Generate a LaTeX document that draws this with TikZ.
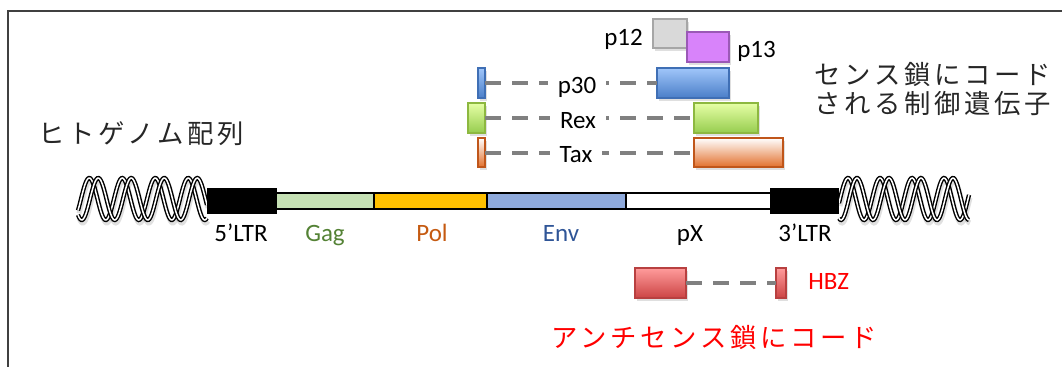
\documentclass[tikz,border=0pt]{standalone}
\usepackage{fontspec}
\setmainfont{Carlito}
\newfontfamily\jpfont[LetterSpace=14]{Noto Sans CJK JP}
\usetikzlibrary{positioning,shadows}

\definecolor{framegray}{HTML}{404040}
\definecolor{gagfill}{HTML}{C5E0B4}
\definecolor{polfill}{HTML}{FFC000}
\definecolor{envfill}{HTML}{8FAADC}
\definecolor{gagtext}{HTML}{548235}
\definecolor{poltext}{HTML}{C55A11}
\definecolor{envtext}{HTML}{2F5597}
\definecolor{dashgray}{HTML}{808080}
\definecolor{ptwelve}{HTML}{D9D9D9}
\definecolor{ptwelveline}{HTML}{A6A6A6}
\definecolor{pthirteen}{HTML}{D883FA}
\definecolor{pthirteenline}{HTML}{9B59B6}
\definecolor{pthirtytop}{HTML}{A0C6FA}
\definecolor{pthirtybot}{HTML}{4A7EC8}
\definecolor{pthirtyline}{HTML}{3F6FB5}
\definecolor{rextop}{HTML}{E6FFA6}
\definecolor{rexbot}{HTML}{96CC4E}
\definecolor{rexline}{HTML}{8DB840}
\definecolor{taxbot}{HTML}{E2702C}
\definecolor{taxline}{HTML}{C0561A}
\definecolor{hbztop}{HTML}{FF9C9C}
\definecolor{hbzbot}{HTML}{CC4444}
\definecolor{hbzline}{HTML}{B84040}

\begin{document}
\begin{tikzpicture}[x=0.2mm,y=-0.2mm]

\tikzstyle{seg} = [rectangle, draw=black, line width=0.35mm, inner sep=0, outer sep=0, minimum height=3.2mm]
\tikzstyle{ltr} = [seg, fill=black, minimum height=5mm]
\tikzstyle{gene} = [rectangle, line width=0.25mm, inner sep=0, outer sep=0, minimum height=6mm, drop shadow={opacity=0.25, shadow xshift=0.3mm, shadow yshift=-0.6mm}]
\tikzstyle{lab} = [font=\fontsize{14.2}{17}\selectfont, inner sep=0]
\tikzstyle{jplab} = [font=\jpfont\fontsize{15}{16.5}\selectfont, inner sep=0]
\tikzstyle{dashline} = [draw=dashgray, line width=0.8mm, dash pattern=on 3.2mm off 2.2mm]
\tikzstyle{strand} = [draw=black, line width=0.28mm, double=white, double distance=0.3mm]
\tikzstyle{strandshadow} = [draw=black, line width=1mm, opacity=0.12]

\useasboundingbox (0,0) rectangle (1062,367);
\draw[framegray, line width=0.5mm] (1062,11) -- (8,11) -- (8,367);

% human genome on both sides
\foreach \sx in {0,9} {
  \draw[strandshadow] plot[domain=78:207, samples=120] ({\x+1}, {202-21*sin((\x-81-\sx)/33*360)});
  \draw[strandshadow] plot[domain=839:969, samples=120] ({\x+1}, {202-21*sin((\x-840-\sx)/32*360)});
}
\foreach \sx in {0,9} {
  \draw[strand] plot[domain=78:207, samples=120] (\x, {199-21*sin((\x-81-\sx)/33*360)});
  \draw[strand] plot[domain=839:969, samples=120] (\x, {199-21*sin((\x-840-\sx)/32*360)});
}

% provirus
\node[ltr, minimum width=13.6mm] (ltr5) at (242,201) {};
\node[seg, fill=gagfill, minimum width=19.6mm, right=0pt of ltr5] (gag) {};
\node[seg, fill=polfill, minimum width=22.6mm, right=0pt of gag] (pol) {};
\node[seg, fill=envfill, minimum width=27.8mm, right=0pt of pol] (env) {};
\node[seg, fill=white, minimum width=29mm, right=0pt of env] (px) {};
\node[ltr, minimum width=13.4mm, right=0pt of px] (ltr3) {};

\node[lab, anchor=base] (ltr5lab) at (241,241) {5’LTR};
\node[lab, anchor=base, text=gagtext] (gaglab) at (325,241) {Gag};
\node[lab, anchor=base, text=poltext] (pollab) at (432,241) {Pol};
\node[lab, anchor=base, text=envtext] (envlab) at (561,241) {Env};
\node[lab, anchor=base] (pxlab) at (690,241) {pX};
\node[lab, anchor=base] (ltr3lab) at (805,241) {3’LTR};

% sense strand
\node[gene, draw=ptwelveline, fill=ptwelve, minimum width=6.8mm, minimum height=5.8mm] (p12) at (670,33.5) {};
\node[gene, draw=pthirteenline, fill=pthirteen, minimum width=8.4mm] (p13) at (708,47) {};
\node[lab, anchor=base east] (p12lab) at (643,45) {p12};
\node[lab, anchor=base west] (p13lab) at (737,57) {p13};

\node[gene, draw=pthirtyline, top color=pthirtytop, bottom color=pthirtybot, minimum width=1.4mm] (p30a) at (481.5,83) {};
\node[gene, draw=pthirtyline, top color=pthirtytop, bottom color=pthirtybot, minimum width=14.4mm] (p30b) at (693,83) {};
\node[gene, draw=rexline, top color=rextop, bottom color=rexbot, minimum width=3.4mm] (rexa) at (476.5,118) {};
\node[gene, draw=rexline, top color=rextop, bottom color=rexbot, minimum width=12.8mm] (rexb) at (726,118) {};
\node[gene, draw=taxline, top color=white, bottom color=taxbot, minimum width=1.4mm, minimum height=5.8mm] (taxa) at (481.5,152.5) {};
\node[gene, draw=taxline, top color=white, bottom color=taxbot, minimum width=17.8mm, minimum height=5.8mm] (taxb) at (738.5,152.5) {};

\draw[dashline] (p30a) -- (p30b);
\draw[dashline] (rexa) -- (rexb);
\draw[dashline] (taxa) -- (taxb);
\node[lab, fill=white, inner xsep=2mm, inner ysep=0.6mm, anchor=base] (p30lab) at (577,93) {p30};
\node[lab, fill=white, inner xsep=2mm, inner ysep=0.6mm, anchor=base] (rexlab) at (578,128) {Rex};
\node[lab, fill=white, inner xsep=2mm, inner ysep=0.6mm, anchor=base] (taxlab) at (576,162) {Tax};

% antisense strand
\node[gene, draw=hbzline, top color=hbztop, bottom color=hbzbot, minimum width=10.2mm] (hbza) at (660.5,283) {};
\node[gene, draw=hbzline, top color=hbztop, bottom color=hbzbot, minimum width=2mm] (hbzb) at (781,283) {};
\draw[dashline] (hbza) -- (hbzb);
\node[lab, anchor=base west, text=red] (hbzlab) at (808,289) {HBZ};

\node[jplab, anchor=west, text=black!85] (genomelab) at (38,134) {ヒトゲノム配列};
\node[jplab, align=center, text=black!85] (senselab) at (933,89) {センス鎖にコード\\される制御遺伝子};
\node[jplab, text=red] (antisenselab) at (714,337) {アンチセンス鎖にコード};

\end{tikzpicture}
\end{document}
